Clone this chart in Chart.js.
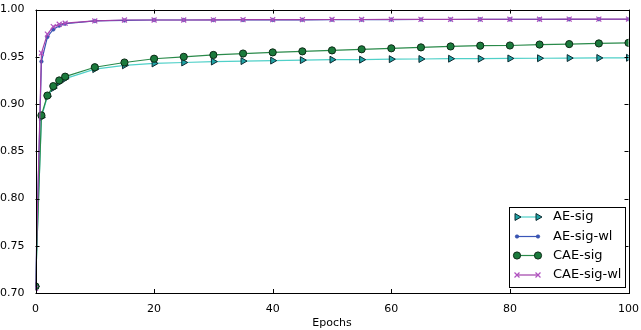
<!DOCTYPE html>
<html>
<head>
<meta charset="utf-8">
<script src="https://cdn.jsdelivr.net/npm/chart.js@4"></script>
<style>
  html, body { margin: 0; padding: 0; background: #fff; }
  #wrap { width: 641px; height: 330px; }
</style>
</head>
<body>
<div id="wrap"><canvas id="chart" width="641" height="330"></canvas></div>
<script>
const epochs = [0, 1, 2, 3, 4, 5, 10, 15, 20, 25, 30, 35, 40, 45, 50, 55, 60, 65, 70, 75, 80, 85, 90, 95, 100];

const aeSig = [0.707, 0.886, 0.908, 0.917, 0.923, 0.927, 0.937, 0.941, 0.943, 0.944, 0.945, 0.9455, 0.946, 0.9465,
  0.947, 0.947, 0.9475, 0.9477, 0.948, 0.948, 0.9483, 0.9485, 0.9487, 0.9488, 0.949];
const aeSigWl = [0.706, 0.945, 0.971, 0.979, 0.983, 0.985, 0.988, 0.9885, 0.989, 0.989, 0.989, 0.989, 0.989, 0.9892,
  0.9893, 0.9893, 0.9894, 0.9895, 0.9895, 0.9896, 0.9896, 0.9897, 0.9897, 0.9898, 0.9898];
const caeSig = [0.707, 0.888, 0.909, 0.919, 0.925, 0.929, 0.939, 0.944, 0.948, 0.950, 0.952, 0.9535, 0.9547, 0.9558,
  0.9568, 0.958, 0.959, 0.960, 0.961, 0.9618, 0.962, 0.963, 0.9635, 0.9642, 0.9648];
const caeSigWl = [0.705, 0.954, 0.974, 0.982, 0.9845, 0.9856, 0.988, 0.989, 0.989, 0.989, 0.9892, 0.9893, 0.9893, 0.9894,
  0.9895, 0.9895, 0.9896, 0.9896, 0.9897, 0.9897, 0.9898, 0.9898, 0.9899, 0.9899, 0.990];

const seriesNames = ["AE-sig", "AE-sig-wl", "CAE-sig", "CAE-sig-wl"];
const xTicks = [0, 20, 40, 60, 80, 100];
const yTicks = [0.70, 0.75, 0.80, 0.85, 0.90, 0.95, 1.00];

const FONT = "'DejaVu Sans', sans-serif";

function pts(ys) {
  return epochs.map((x, i) => ({ x: x, y: ys[i] }));
}

const styles = [
  { line: "#4fd0c8", fill: "#1fa3a6", edge: "#0d2b30", style: "triangle", rot: 90, r: 4, bw: 1 },
  { line: "#3a56b8", fill: "#3a56b8", edge: "#2a449a", style: "circle", rot: 0, r: 1.8, bw: 0.5 },
  { line: "#2a8a4a", fill: "#1b7a3c", edge: "#0c2a16", style: "circle", rot: 0, r: 3.6, bw: 1 },
  { line: "#a040a8", fill: "#c46ccc", edge: "#b050c0", style: "crossRot", rot: 0, r: 3.5, bw: 1.2 }
];

const allData = [aeSig, aeSigWl, caeSig, caeSigWl];

const datasets = allData.map((ys, i) => ({
  label: seriesNames[i],
  data: pts(ys),
  order: 3 - i,
  borderColor: styles[i].line,
  borderWidth: 1.2,
  pointStyle: styles[i].style,
  pointRotation: styles[i].rot,
  pointRadius: styles[i].r,
  pointBackgroundColor: styles[i].fill,
  pointBorderColor: styles[i].edge,
  pointBorderWidth: styles[i].bw,
  tension: 0,
  fill: false
}));

// box, inward ticks and legend, matplotlib style
const framePlugin = {
  id: "frame",
  afterDraw(chart) {
    const ctx = chart.ctx;
    const a = chart.chartArea;
    const xs = chart.scales.x, ys = chart.scales.y;
    ctx.save();
    ctx.strokeStyle = "#000";
    ctx.lineWidth = 1;
    ctx.strokeRect(Math.round(a.left) + 0.5, Math.round(a.top) + 0.5,
      Math.round(a.right - a.left), Math.round(a.bottom - a.top));
    ctx.beginPath();
    xTicks.forEach(v => {
      const px = Math.round(xs.getPixelForValue(v)) + 0.5;
      ctx.moveTo(px, a.bottom); ctx.lineTo(px, a.bottom - 4);
      ctx.moveTo(px, a.top); ctx.lineTo(px, a.top + 4);
    });
    yTicks.forEach(v => {
      const py = Math.round(ys.getPixelForValue(v)) + 0.5;
      ctx.moveTo(a.left, py); ctx.lineTo(a.left + 4, py);
      ctx.moveTo(a.right, py); ctx.lineTo(a.right - 4, py);
    });
    ctx.stroke();

    // legend
    const bx = 509.5, by = 207.5, bw = 116, bh = 80;
    ctx.fillStyle = "#fff";
    ctx.fillRect(bx, by, bw, bh);
    ctx.strokeRect(bx, by, bw, bh);
    ctx.font = "13px " + FONT;
    ctx.textBaseline = "middle";
    const rowY = [217, 236.5, 255.5, 275];
    seriesNames.forEach((name, i) => {
      const s = styles[i];
      const y = rowY[i];
      ctx.strokeStyle = s.line;
      ctx.lineWidth = 1.2;
      ctx.beginPath();
      ctx.moveTo(517, y); ctx.lineTo(538, y);
      ctx.stroke();
      [517, 538].forEach(x => {
        ctx.fillStyle = s.fill;
        ctx.strokeStyle = s.edge;
        ctx.lineWidth = s.bw;
        Chart.helpers.drawPoint(ctx, { pointStyle: s.style, rotation: s.rot, radius: s.r, borderWidth: s.bw }, x, y);
      });
      ctx.fillStyle = "#000";
      ctx.fillText(name, 553, y);
    });
    ctx.restore();
  }
};

new Chart(document.getElementById("chart"), {
  type: "line",
  data: { datasets: datasets },
  options: {
    responsive: false,
    animation: false,
    layout: { padding: { top: 8, right: 10, left: 0, bottom: 0 } },
    plugins: { legend: { display: false }, tooltip: { enabled: false } },
    scales: {
      x: {
        type: "linear",
        min: 0, max: 100,
        afterBuildTicks: (s) => { s.ticks = xTicks.map(v => ({ value: v })); },
        afterFit: (s) => { s.height = 37; },
        grid: { display: false },
        border: { display: false },
        ticks: { color: "#000", font: { family: FONT, size: 11 }, padding: 2, maxRotation: 0 },
        title: { display: true, text: "Epochs", color: "#000", font: { family: FONT, size: 11 }, padding: { top: 4, bottom: 0 } }
      },
      y: {
        min: 0.70, max: 1.00,
        afterBuildTicks: (s) => { s.ticks = yTicks.map(v => ({ value: v })); },
        afterFit: (s) => { s.width = 35.5; },
        grid: { display: false },
        border: { display: false },
        ticks: { color: "#000", font: { family: FONT, size: 11 }, padding: 3, callback: (v) => Number(v).toFixed(2) }
      }
    }
  },
  plugins: [framePlugin]
});
</script>
</body>
</html>
